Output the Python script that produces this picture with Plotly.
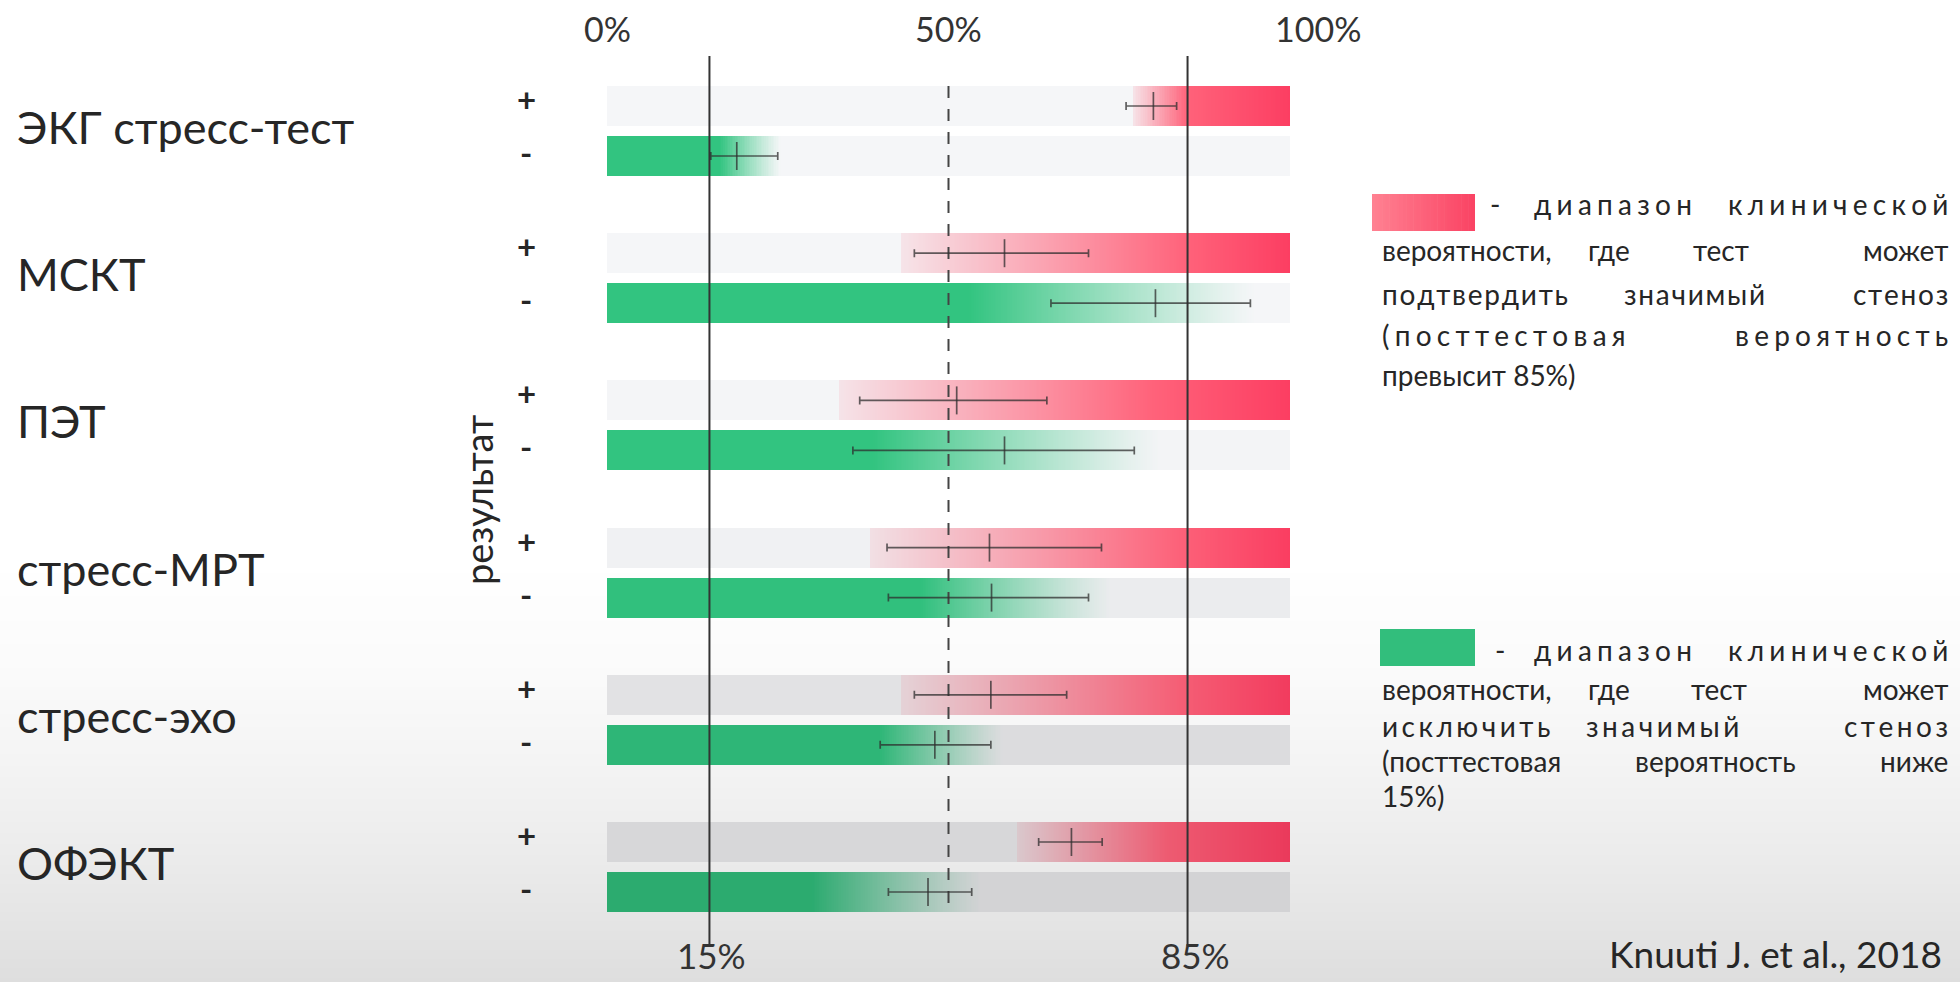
import numpy as np
import plotly.graph_objects as go

W, H = 1960, 982

# ---------------------------------------------------------------- data
tests = ["ЭКГ стресс-тест", "МСКТ", "ПЭТ", "стресс-МРТ", "стресс-эхо", "ОФЭКТ"]

# post-test probability (%) after a positive result: low / point / high
pos_lo = [76.0, 45.0, 37.0, 41.0, 45.0, 63.2]
pos_mid = [80.0, 58.2, 51.2, 56.0, 56.2, 68.0]
pos_hi = [83.4, 70.5, 64.4, 72.4, 67.3, 72.5]

# post-test probability (%) after a negative result: low / point / high
neg_lo = [15.2, 65.0, 36.0, 41.2, 40.0, 41.2]
neg_mid = [19.0, 80.3, 58.2, 56.3, 48.0, 47.0]
neg_hi = [25.0, 94.2, 77.2, 70.5, 56.2, 53.4]

# rule-in band (red): fade begins / reaches full colour
rule_in_start = [77.0, 43.0, 34.0, 38.5, 43.0, 60.0]
rule_in_full = [85.0, 85.0, 80.0, 84.0, 84.0, 82.0]

# rule-out band (green): full colour up to / faded out by
rule_out_full = [16.5, 53.0, 39.0, 46.0, 40.0, 30.0]
rule_out_end = [25.5, 95.0, 81.0, 74.0, 58.0, 55.0]

threshold_vals = [15, 85]
threshold_labels = ["15%", "85%"]
midline_val = 50
top_tick_vals = [0, 50, 100]
top_tick_labels = ["0%", "50%", "100%"]
result_signs = ["+", "-"]

# ---------------------------------------------------------------- geometry
PX0, PX100 = 607.0, 1290.0          # pixel x of 0% and 100%
ROW0_PX, GROUP_PX = 106.0, 147.2    # first row centre, spacing of test groups
ROW_GAP = 50.0 / GROUP_PX           # distance "+" row -> "-" row
BAR_H = 40.0 / GROUP_PX


def px_to_x(px):
    return (px - PX0) / (PX100 - PX0) * 100.0


def py_to_y(py):
    return (py - ROW0_PX) / GROUP_PX


def paper_x(px):
    return px / W


def paper_y(py):
    return 1.0 - py / H


X_RANGE = [px_to_x(0), px_to_x(W)]
Y_RANGE = [py_to_y(H), py_to_y(0)]   # reversed: first test on top

# ---------------------------------------------------------------- styling
FONT = "Lato"
TEXT = "#262626"
RED_LIGHT = np.array([255, 98, 122])
RED_DEEP = np.array([252, 62, 98])
GREEN = np.array([50, 196, 128])
WHISKER = "rgba(45,45,45,0.75)"
track_colors = [(245, 246, 248), (245, 246, 248), (245, 246, 248), (245, 246, 248),
                (244, 245, 247), (243, 244, 246), (240, 241, 243), (235, 236, 238),
                (226, 226, 228), (220, 220, 222), (215, 215, 217), (211, 211, 213)]
red_shade = [1.0, 1.0, 1.0, 0.99, 0.96, 0.93]
green_shade = [1.0, 1.0, 1.0, 0.98, 0.93, 0.87]


def rgb(c):
    c = np.clip(np.round(c), 0, 255).astype(int)
    return f"rgb({c[0]},{c[1]},{c[2]})"


def mix(a, b, t):
    return np.asarray(a, float) * (1 - t) + np.asarray(b, float) * t


STEP = 0.25
OVER = 0.08

track_y, seg_y, seg_base, seg_w, seg_col = [], [], [], [], []
for g in range(len(tests)):
    y_pos = g
    y_neg = g + ROW_GAP
    track_y += [y_pos, y_neg]
    tr_pos = np.array(track_colors[2 * g], float)
    tr_neg = np.array(track_colors[2 * g + 1], float)

    # red band, fading in from the left
    s, f = rule_in_start[g], rule_in_full[g]
    p = s
    while p < 100 - 1e-9:
        w = min(STEP, 100 - p)
        c = p + w / 2
        a = 0.12 + 0.88 * np.clip((c - s) / (f - s), 0, 1)
        deep = np.clip((c - f) / (100 - f), 0, 1)
        red = mix(RED_LIGHT, RED_DEEP, deep) * red_shade[g]
        seg_y.append(y_pos)
        seg_base.append(p)
        seg_w.append(min(w + OVER, 100 - p))
        seg_col.append(rgb(mix(tr_pos, red, a)))
        p += w

    # green band, fading out to the right
    full, end = rule_out_full[g], rule_out_end[g]
    p = 0.0
    while p < end - 1e-9:
        w = min(STEP, end - p)
        c = p + w / 2
        a = np.clip((end - c) / (end - full), 0, 1) ** 1.15
        seg_y.append(y_neg)
        seg_base.append(p)
        seg_w.append(min(w + OVER, end - p))
        seg_col.append(rgb(mix(tr_neg, GREEN * green_shade[g], a)))
        p += w

fig = go.Figure()

# soft grey shading towards the bottom of the slide
bg_py = np.linspace(0, H, 60)
bg_level = np.interp(bg_py, [0, 560, 680, 760, 860, 982], [255, 255, 250, 244, 235, 222])
fig.add_trace(go.Heatmap(
    x=[X_RANGE[0], X_RANGE[1]], y=[py_to_y(v) for v in bg_py],
    z=[[v, v] for v in bg_level], zmin=0, zmax=255, zsmooth="best",
    colorscale=[[0, "rgb(0,0,0)"], [1, "rgb(255,255,255)"]],
    showscale=False, hoverinfo="skip"))

# grey tracks 0..100 %
fig.add_trace(go.Bar(
    orientation="h", y=track_y, base=[0] * len(track_y), x=[100] * len(track_y),
    width=BAR_H, marker=dict(color=[rgb(np.array(c)) for c in track_colors], line=dict(width=0)),
    hoverinfo="skip", showlegend=False))

# coloured gradient bands
fig.add_trace(go.Bar(
    orientation="h", y=seg_y, base=seg_base, x=seg_w, width=BAR_H,
    marker=dict(color=seg_col, line=dict(width=0)),
    hoverinfo="skip", showlegend=False))

# threshold lines at 15 % and 85 %
y_line_top, y_line_bot = py_to_y(56), py_to_y(946)
thr_x, thr_y = [], []
for v in threshold_vals:
    thr_x += [v, v, None]
    thr_y += [y_line_top, y_line_bot, None]
fig.add_trace(go.Scatter(x=thr_x, y=thr_y, mode="lines",
                         line=dict(color="#333333", width=2),
                         hoverinfo="skip", showlegend=False))

# dashed 50 % line across the bars
fig.add_trace(go.Scatter(
    x=[midline_val, midline_val], y=[0 - BAR_H / 2, len(tests) - 1 + ROW_GAP + BAR_H / 2],
    mode="lines", line=dict(color="#444444", width=2, dash="12px,11px"),
    hoverinfo="skip", showlegend=False))

# confidence intervals
ci_x, ci_y, ci_plus, ci_minus = [], [], [], []
for g in range(len(tests)):
    ci_x += [pos_mid[g], neg_mid[g]]
    ci_y += [g, g + ROW_GAP]
    ci_plus += [pos_hi[g] - pos_mid[g], neg_hi[g] - neg_mid[g]]
    ci_minus += [pos_mid[g] - pos_lo[g], neg_mid[g] - neg_lo[g]]
fig.add_trace(go.Scatter(
    x=ci_x, y=ci_y, mode="markers",
    marker=dict(symbol="line-ns", size=20, line=dict(width=1.7, color=WHISKER)),
    error_x=dict(type="data", symmetric=False, array=ci_plus, arrayminus=ci_minus,
                 color=WHISKER, thickness=1.7, width=4),
    hoverinfo="skip", showlegend=False))

# ---------------------------------------------------------------- text
ann = []


def note(text, px, py, size, xanchor="left", yanchor="middle", **kw):
    ann.append(dict(text=text, x=paper_x(px), y=paper_y(py), xref="paper", yref="paper",
                    xanchor=xanchor, yanchor=yanchor, showarrow=False,
                    font=dict(family=FONT, size=size, color=TEXT), **kw))


def spaced(word, level):
    """Track the letters of a word apart (0 = normal … 3 = wide)."""
    sep = ["", "\u200a", "\u2009", "\u2009\u200a"][level]
    return sep.join(word)


# test names and +/- markers
for g, name in enumerate(tests):
    ann.append(dict(text=name, x=paper_x(15), y=g + ROW_GAP / 2, xref="paper", yref="y",
                    xanchor="left", yanchor="middle", yshift=4, showarrow=False,
                    font=dict(family=FONT, size=45, color=TEXT)))
    for k, sgn in enumerate(result_signs):
        ann.append(dict(text=f"<b>{sgn}</b>", x=paper_x(526), y=g + k * ROW_GAP,
                        xref="paper", yref="y", xanchor="center", yanchor="middle",
                        yshift=7 if k == 0 else 4, showarrow=False,
                        font=dict(family=FONT, size=33, color=TEXT)))

note("результат", 478, 500, 38, xanchor="center", textangle=-90)

# percent scale labels
for v, lab in zip(top_tick_vals, top_tick_labels):
    ann.append(dict(text=lab, x=v, y=paper_y(28), xref="x", yref="paper",
                    xanchor="center", yanchor="middle", showarrow=False,
                    xshift=28 if v == 100 else 0,
                    font=dict(family=FONT, size=34, color="#333333")))
for v, lab in zip(threshold_vals, threshold_labels):
    ann.append(dict(text=lab, x=v, y=paper_y(955), xref="x", yref="paper",
                    xanchor="center", yanchor="middle", showarrow=False,
                    xshift=8 if v == 85 else 2,
                    font=dict(family=FONT, size=35, color="#333333")))

# explanatory notes on the right: (row y, spacing level, words)
LEG = 28
red_lines = [
    (204, 3, [("-", 1495, "center"), ("диапазон", 1532, "left"), ("клинической", 1950, "right")]),
    (250, 0, [("вероятности,", 1380, "left"), ("где", 1609, "center"), ("тест", 1721, "center"),
              ("может", 1950, "right")]),
    (294, 1, [("подтвердить", 1380, "left"), ("значимый", 1694, "center"), ("стеноз", 1950, "right")]),
    (335, 3, [("(посттестовая", 1380, "left"), ("вероятность", 1950, "right")]),
    (375, 0, [("превысит 85%)", 1380, "left")]),
]
green_lines = [
    (650, 3, [("-", 1500, "center"), ("диапазон", 1532, "left"), ("клинической", 1950, "right")]),
    (689, 0, [("вероятности,", 1380, "left"), ("где", 1609, "center"), ("тест", 1719, "center"),
              ("может", 1950, "right")]),
    (726, 2, [("исключить", 1380, "left"), ("значимый", 1662, "center"), ("стеноз", 1950, "right")]),
    (761, 0, [("(посттестовая", 1380, "left"), ("вероятность", 1715, "center"), ("ниже", 1950, "right")]),
    (796, 0, [("15%)", 1380, "left")]),
]
for py, lvl, words in red_lines + green_lines:
    for word, px, anchor in words:
        note(spaced(word, lvl), px, py, LEG, xanchor=anchor)

note("Knuuti J. et al., 2018", 1944, 953, 37, xanchor="right")

# colour keys for the notes
shapes = []
n_sl = 30
kx0, kx1, ky0, ky1 = 1372, 1475, 194, 231
for i in range(n_sl):
    t = i / (n_sl - 1)
    c = mix([255, 128, 145], [250, 68, 100], t)
    x0 = kx0 + (kx1 - kx0) * i / n_sl
    x1 = kx0 + (kx1 - kx0) * (i + 1) / n_sl + 0.6
    shapes.append(dict(type="rect", xref="paper", yref="paper",
                       x0=paper_x(x0), x1=paper_x(min(x1, kx1)),
                       y0=paper_y(ky1), y1=paper_y(ky0),
                       fillcolor=rgb(c), line=dict(width=0), layer="above"))
shapes.append(dict(type="rect", xref="paper", yref="paper",
                   x0=paper_x(1380), x1=paper_x(1475), y0=paper_y(666), y1=paper_y(629),
                   fillcolor="rgb(50,190,124)", line=dict(width=0), layer="above"))

fig.update_layout(
    width=W, height=H, autosize=False,
    margin=dict(l=0, r=0, t=0, b=0, pad=0),
    paper_bgcolor="white", plot_bgcolor="white",
    barmode="overlay", bargap=0, showlegend=False,
    xaxis=dict(range=X_RANGE, domain=[0, 1], visible=False, fixedrange=True),
    yaxis=dict(range=Y_RANGE, domain=[0, 1], visible=False, fixedrange=True),
    annotations=ann, shapes=shapes,
    font=dict(family=FONT, color=TEXT),
)

fig.write_html("out.html")
